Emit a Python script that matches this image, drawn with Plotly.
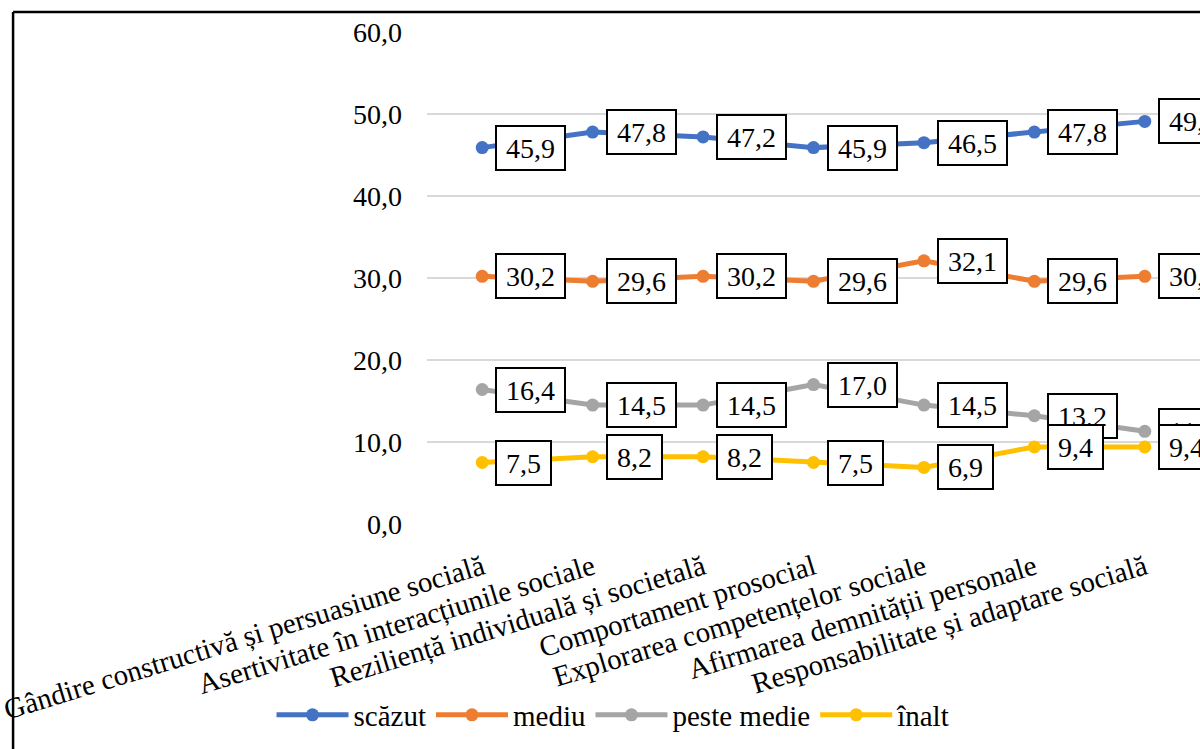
import plotly.graph_objects as go

categories = [
    "Gândire constructivă și persuasiune socială",
    "Asertivitate în interacțiunile sociale",
    "Reziliență individuală și societală",
    "Comportament prosocial",
    "Explorarea competențelor sociale",
    "Afirmarea demnității personale",
    "Responsabilitate și adaptare socială",
]
scazut = [45.9, 47.8, 47.2, 45.9, 46.5, 47.8, 49.1]
mediu = [30.2, 29.6, 30.2, 29.6, 32.1, 29.6, 30.2]
peste_medie = [16.4, 14.5, 14.5, 17.0, 14.5, 13.2, 11.3]
inalt = [7.5, 8.2, 8.2, 7.5, 6.9, 9.4, 9.4]

series = [
    ("scăzut", scazut, "#4472C4"),
    ("mediu", mediu, "#ED7D31"),
    ("peste medie", peste_medie, "#A5A5A5"),
    ("înalt", inalt, "#FFC000"),
]

FONT = "Liberation Serif, Times New Roman, serif"
FS = 28
W, H = 1200, 749
L, R, T, B = 425, 0, 32, 225
PW, PH = W - L - R, H - T - B

def px_x(p):
    return (p - L) / PW

def px_y(p):
    return 1 - (p - T) / PH

xs = list(range(len(categories)))
fig = go.Figure()
annotations = []
for name, vals, color in series:
    fig.add_trace(go.Scatter(
        x=xs, y=vals, name=name, mode="lines+markers",
        line=dict(color=color, width=5),
        marker=dict(color=color, size=13),
    ))
    for x, v in zip(xs, vals):
        label = f"{v:.1f}".replace(".", ",")
        annotations.append(dict(
            x=x, y=v, xref="x", yref="y",
            text="\u00a0" + label + "\u00a0",
            showarrow=False, xanchor="left", yanchor="middle", xshift=13,
            font=dict(family=FONT, size=FS, color="black"),
            bgcolor="white", bordercolor="black", borderwidth=2,
            borderpad=2, height=38,
        ))

fig.update_layout(
    width=W, height=H,
    margin=dict(l=L, r=R, t=T, b=B, pad=0),
    paper_bgcolor="white", plot_bgcolor="white",
    separators=", ",
    font=dict(family=FONT, size=FS, color="black"),
    annotations=annotations,
    showlegend=True,
    legend=dict(
        orientation="h", x=px_x(612), y=px_y(715),
        xanchor="center", yanchor="middle",
        font=dict(family=FONT, size=29, color="black"),
        itemwidth=72, bgcolor="rgba(0,0,0,0)",
    ),
    xaxis=dict(
        tickmode="array", tickvals=xs, ticktext=categories,
        range=[-0.5, len(categories) - 0.5],
        tickangle=-17, showgrid=False, zeroline=False, showline=False,
        ticks="", ticklabelstandoff=20, ticklabeloverflow="allow",
        tickfont=dict(family=FONT, size=29, color="black"),
    ),
    yaxis=dict(
        range=[0, 60], dtick=10, tickformat=".1f",
        showgrid=True, gridcolor="#D9D9D9", gridwidth=1.5,
        zeroline=False, showline=False, ticks="",
        ticklabelstandoff=24,
        tickfont=dict(family=FONT, size=FS, color="black"),
    ),
    shapes=[
        dict(type="line", xref="paper", yref="paper",
             x0=px_x(10), x1=px_x(1210), y0=px_y(12), y1=px_y(12),
             line=dict(color="black", width=2.5)),
        dict(type="line", xref="paper", yref="paper",
             x0=px_x(10), x1=px_x(10), y0=px_y(12), y1=px_y(760),
             line=dict(color="black", width=2.5)),
    ],
)

fig.write_html("out.html")
